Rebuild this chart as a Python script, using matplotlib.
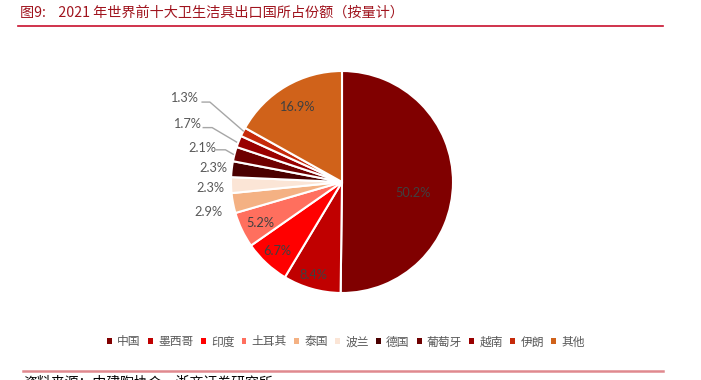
import matplotlib
matplotlib.use("Agg")
import matplotlib.pyplot as plt
from matplotlib.lines import Line2D
from matplotlib.patches import Patch

plt.rcParams['font.family'] = ['Noto Sans CJK SC', 'DejaVu Sans']

countries = ['中国', '墨西哥', '印度', '土耳其', '泰国', '波兰', '德国', '葡萄牙', '越南', '伊朗', '其他']
shares = [50.2, 8.4, 6.7, 5.2, 2.9, 2.3, 2.3, 2.1, 1.7, 1.3, 16.9]
colors = ['#800000', '#C00000', '#FF0000', '#FF6F5E', '#F4B183', '#FBE5D6',
          '#4A0000', '#6E0000', '#990000', '#C62A0A', '#D0621A']
title = '图9:    2021 年世界前十大卫生洁具出口国所占份额（按量计）'
source = '资料来源：中建陶协会，浙商证券研究所'

W, H = 701, 380
fig = plt.figure(figsize=(W / 100, H / 100), dpi=100)

# pie axes (center 342,182 px, radius 111 px)
cx, cy, r = 342, 182, 111
ax = fig.add_axes([(cx - r) / W, (H - cy - r) / H, 2 * r / W, 2 * r / H])
wedges, _ = ax.pie(shares, colors=colors, startangle=90, counterclock=False,
                   radius=1, wedgeprops=dict(edgecolor='white', linewidth=1.5))
ax.set_xlim(-1, 1)
ax.set_ylim(-1, 1)
ax.set_aspect('equal')
ax.axis('off')

# label positions (data coords)
label_pos = [(0.64, -0.10), (-0.26, -0.84), (-0.58, -0.62), (-0.74, -0.37),
             (-1.20, -0.27), (-1.19, -0.05), (-1.16, 0.13), (-1.26, 0.31),
             (-1.40, 0.52), (-1.42, 0.76), (-0.41, 0.68)]
inside = [True, True, True, True, False, False, False, False, False, False, True]
for v, (x, y), ins in zip(shares, label_pos, inside):
    ax.text(x, y, f'{v:.1f}%', ha='center', va='center', fontsize=9.2,
            family=['Lato', 'DejaVu Sans'],
            color='#404040' if ins else '#595959', clip_on=False)

leaders = {7: [(-1.13, 0.29), (-1.05, 0.29), (-0.98, 0.25)],
           8: [(-1.25, 0.49), (-1.17, 0.49), (-0.95, 0.36)],
           9: [(-1.26, 0.72), (-1.19, 0.72), (-0.89, 0.46)]}
for i, pts in leaders.items():
    xs, ys = zip(*pts)
    ax.add_line(Line2D(xs, ys, color='#A6A6A6', lw=1.0, clip_on=False))

# title and rules
fig.text(20 / W, 1 - 13 / H, title, ha='left', va='center', fontsize=10.2,
         color='#A0141E')
fig.add_artist(Line2D([18 / W, 663 / W], [1 - 26 / H, 1 - 26 / H],
                      color='#C8102E', lw=1.2))
fig.add_artist(Line2D([23 / W, 663 / W], [1 - 370.5 / H, 1 - 370.5 / H],
                      color='#E0898F', lw=1.8))
fig.text(23 / W, 1 - 375 / H, source, ha='left', va='top', fontsize=10,
         color='black')

handles = [Patch(facecolor=c, edgecolor='none') for c in colors]
leg = fig.legend(handles, countries, loc='center', bbox_to_anchor=(346 / W, 1 - 342 / H),
                 ncol=len(countries), frameon=False, fontsize=8.5,
                 handlelength=0.4, handleheight=0.4, handletextpad=0.45,
                 columnspacing=0.62, borderpad=0)
for t in leg.get_texts():
    t.set_color('#595959')

fig.savefig('out.png', dpi=100)
